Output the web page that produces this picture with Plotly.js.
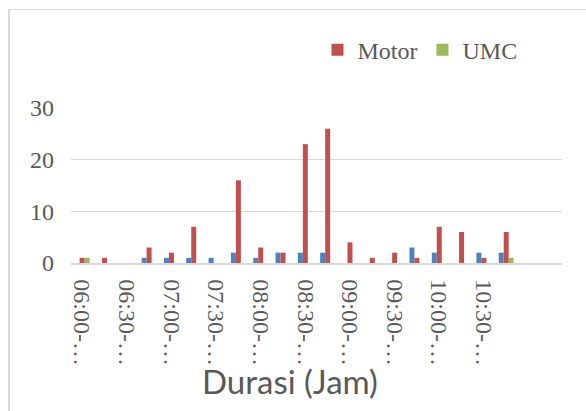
<!DOCTYPE html>
<html>
<head>
<meta charset="utf-8">
<script src="https://cdn.plot.ly/plotly-3.0.1.min.js"></script>
<style>
  html, body { margin: 0; padding: 0; background: #fff; }
  #wrap { position: relative; width: 586px; height: 411px; overflow: hidden; }
  #chart { position: absolute; left: 0; top: 0; width: 586px; height: 411px; }
  #frame { position: absolute; left: 8px; top: 9px; width: 700px; height: 500px;
           border-left: 2px solid #D9D9D9; border-top: 1.5px solid #D9D9D9; pointer-events: none; }
</style>
</head>
<body>
<div id="wrap">
  <div id="chart"></div>
  <div id="frame"></div>
</div>
<script>
// Categories: 15-minute intervals (Durasi)
const categories = [
  "06:00-06:15","06:15-06:30","06:30-06:45","06:45-07:00",
  "07:00-07:15","07:15-07:30","07:30-07:45","07:45-08:00",
  "08:00-08:15","08:15-08:30","08:30-08:45","08:45-09:00",
  "09:00-09:15","09:15-09:30","09:30-09:45","09:45-10:00",
  "10:00-10:15","10:15-10:30","10:30-10:45","10:45-11:00"
];
// Tick labels shown (every second category, truncated as in the original)
const tickCats = ["06:00-06:15","06:30-06:45","07:00-07:15","07:30-07:45","08:00-08:15",
                  "08:30-08:45","09:00-09:15","09:30-09:45","10:00-10:15","10:30-10:45"];
const tickLabels = ["06:00-…","06:30-…","07:00-…","07:30-…","08:00-…",
                    "08:30-…","09:00-…","09:30-…","10:00-…","10:30-…"];

const mobil = [0,0,0,1,1,1,1,2,1,2,2,2,0,0,0,3,2,0,2,2];
const motor = [1,1,0,3,2,7,0,16,3,2,23,26,4,1,2,1,7,6,1,6];
const umc   = [1,0,0,0,0,0,0,0,0,0,0,0,0,0,0,0,0,0,0,1];

const yTicks = [0,10,20,30];

const serif = "'Liberation Serif', 'Times New Roman', serif";
const grey = "#595959";

const traces = [
  {type:"bar", name:"Mobil", x:categories, y:mobil, marker:{color:"#4F81BD"}, showlegend:false},
  {type:"bar", name:"Motor", x:categories, y:motor, marker:{color:"#C0504D"}},
  {type:"bar", name:"UMC",   x:categories, y:umc,   marker:{color:"#9BBB59"}}
];

const layout = {
  width: 586, height: 411,
  margin: {l:71, r:24, t:108, b:148},
  paper_bgcolor: "#ffffff",
  plot_bgcolor: "#ffffff",
  barmode: "group",
  bargap: 0.33,
  bargroupgap: 0,
  showlegend: true,
  legend: {
    orientation: "h",
    x: 0.502, xanchor: "left",
    y: 1.374, yanchor: "middle",
    font: {family: serif, size: 24, color: grey},
    bgcolor: "rgba(0,0,0,0)"
  },
  xaxis: {
    type: "category",
    categoryorder: "array",
    categoryarray: categories,
    range: [-0.5, 21.5],
    tickmode: "array",
    tickvals: tickCats,
    ticktext: tickLabels,
    tickangle: 90,
    ticks: "",
    ticklabelstandoff: 10,
    tickfont: {family: serif, size: 24, color: grey},
    showgrid: false,
    showline: true,
    linecolor: "#D9D9D9",
    linewidth: 1.5,
    zeroline: false,
    fixedrange: true
  },
  yaxis: {
    range: [0, 30],
    tickmode: "array",
    tickvals: yTicks,
    ticks: "",
    ticklabelstandoff: 16,
    tickfont: {family: serif, size: 24, color: grey},
    showgrid: true,
    gridcolor: "#D9D9D9",
    gridwidth: 1.3,
    zeroline: false,
    showline: false,
    fixedrange: true
  },
  annotations: [{
    text: "Durasi (Jam)",
    xref: "paper", yref: "paper",
    x: 0.446, y: -0.761,
    xanchor: "center", yanchor: "middle",
    showarrow: false,
    font: {family: "Lato, 'Noto Sans', sans-serif", size: 33, color: grey}
  }]
};

Plotly.newPlot("chart", traces, layout, {displayModeBar:false, staticPlot:true});
</script>
</body>
</html>
